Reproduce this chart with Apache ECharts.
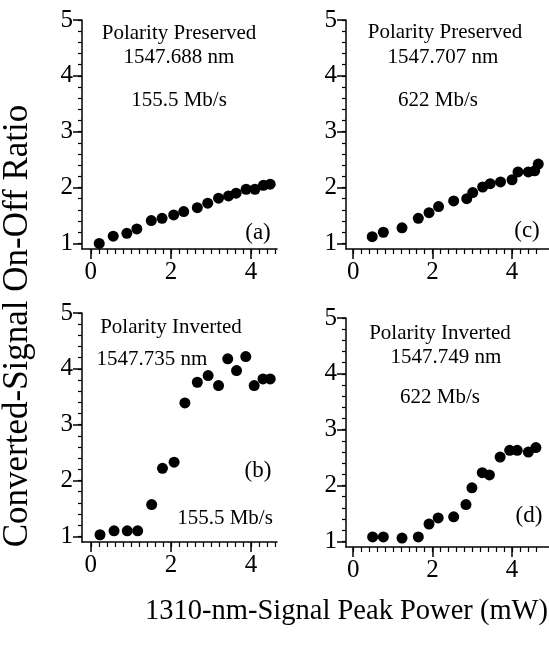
<!DOCTYPE html>
<html>
<head>
<meta charset="utf-8">
<script src="https://cdn.jsdelivr.net/npm/echarts@6/dist/echarts.min.js"></script>
<style>
  html, body { margin: 0; padding: 0; background: #fff; }
  #chart { width: 549px; height: 652px; }
</style>
</head>
<body>
<div id="chart"></div>
<script>
// panel data (x = 1310-nm peak power in mW, y = on-off ratio)
var aX = [0.21, 0.56, 0.90, 1.15, 1.51, 1.78, 2.07, 2.32, 2.66, 2.92, 3.19, 3.44, 3.63, 3.88, 4.10, 4.31, 4.48];
var aY = [1.00, 1.13, 1.18, 1.26, 1.41, 1.45, 1.51, 1.57, 1.64, 1.72, 1.81, 1.85, 1.90, 1.97, 1.97, 2.04, 2.06];

var bX = [0.23, 0.58, 0.91, 1.17, 1.52, 1.79, 2.08, 2.35, 2.66, 2.93, 3.19, 3.42, 3.64, 3.87, 4.08, 4.30, 4.48];
var bY = [1.03, 1.10, 1.10, 1.10, 1.57, 2.22, 2.33, 3.39, 3.76, 3.88, 3.70, 4.18, 3.97, 4.22, 3.70, 3.82, 3.82];

var cX = [0.48, 0.76, 1.23, 1.64, 1.91, 2.15, 2.53, 2.86, 3.01, 3.26, 3.45, 3.71, 4.00, 4.15, 4.41, 4.57, 4.66];
var cY = [1.12, 1.20, 1.28, 1.45, 1.55, 1.66, 1.76, 1.80, 1.91, 2.01, 2.07, 2.10, 2.14, 2.28, 2.28, 2.30, 2.42];

var dX = [0.49, 0.76, 1.23, 1.64, 1.91, 2.14, 2.53, 2.84, 2.99, 3.25, 3.43, 3.70, 3.94, 4.13, 4.41, 4.60];
var dY = [1.08, 1.08, 1.06, 1.08, 1.31, 1.42, 1.44, 1.66, 1.96, 2.23, 2.19, 2.51, 2.63, 2.63, 2.60, 2.68];

// tick labels
var xMajor = [0, 2, 4];
var yMajor = [1, 2, 3, 4, 5];

var serif = '"Liberation Serif", "DejaVu Serif", serif';

function minorList(from, to) {
    var out = [];
    for (var v = from; v <= to + 1e-9; v += 0.2) out.push(Math.round(v * 10) / 10);
    return out;
}
var xMinor = minorList(0, 4.6);
var yMinor = minorList(1, 5);

function pair(xs, ys) {
    return xs.map(function (x, i) { return [x, ys[i]]; });
}

var panels = [
    { data: pair(aX, aY), grid: { left: 82, top: 20, width: 195, height: 229 }, xr: [-0.22, 4.65] },
    { data: pair(bX, bY), grid: { left: 82, top: 313, width: 195, height: 229 }, xr: [-0.22, 4.65] },
    { data: pair(cX, cY), grid: { left: 346, top: 20, width: 203, height: 229 }, xr: [-0.18, 4.93] },
    { data: pair(dX, dY), grid: { left: 346, top: 318, width: 203, height: 229 }, xr: [-0.18, 4.93] }
];

var grids = [], xAxes = [], yAxes = [], series = [];
panels.forEach(function (p, i) {
    grids.push(p.grid);
    // main axes: line, short ticks, labels
    xAxes.push({
        type: 'value', gridIndex: i, position: 'bottom', min: p.xr[0], max: p.xr[1],
        axisLine: { onZero: false, lineStyle: { color: '#000', width: 1.5 } },
        axisTick: { customValues: xMinor, length: 5, lineStyle: { color: '#000', width: 1.2 } },
        axisLabel: { customValues: xMajor, color: '#000', fontFamily: serif, fontSize: 25, margin: 11 },
        splitLine: { show: false }
    });
    // long ticks at major values
    xAxes.push({
        type: 'value', gridIndex: i, position: 'bottom', min: p.xr[0], max: p.xr[1],
        axisLine: { show: false, onZero: false },
        axisTick: { customValues: xMajor, length: 10, lineStyle: { color: '#000', width: 1.5 } },
        axisLabel: { show: false },
        splitLine: { show: false }
    });
    yAxes.push({
        type: 'value', gridIndex: i, position: 'left', min: 0.9, max: 5,
        axisLine: { onZero: false, lineStyle: { color: '#000', width: 1.5 } },
        axisTick: { customValues: yMinor, length: 4, lineStyle: { color: '#000', width: 1.2 } },
        axisLabel: { customValues: yMajor, color: '#000', fontFamily: serif, fontSize: 25, margin: 9 },
        splitLine: { show: false }
    });
    yAxes.push({
        type: 'value', gridIndex: i, position: 'left', min: 0.9, max: 5,
        axisLine: { show: false, onZero: false },
        axisTick: { customValues: yMajor, length: 9, lineStyle: { color: '#000', width: 1.5 } },
        axisLabel: { show: false },
        splitLine: { show: false }
    });
    series.push({
        type: 'scatter', xAxisIndex: 2 * i, yAxisIndex: 2 * i,
        data: p.data, symbolSize: 11,
        itemStyle: { color: '#000', opacity: 1 },
        silent: true
    });
});

function label(text, x, y, size, align) {
    return {
        type: 'text', x: x, y: y,
        style: {
            text: text, fill: '#000', font: size + 'px ' + serif,
            textAlign: align || 'center', textVerticalAlign: 'middle'
        }
    };
}

var texts = [
    label('Polarity Preserved', 179, 33, 21),
    label('1547.688 nm', 179, 57, 21),
    label('155.5 Mb/s', 179, 100, 21),
    label('(a)', 258, 233, 23),

    label('Polarity Preserved', 445, 32, 21),
    label('1547.707 nm', 443, 57, 21),
    label('622 Mb/s', 438, 100, 21),
    label('(c)', 527, 231, 23),

    label('Polarity Inverted', 171, 327, 21),
    label('1547.735 nm', 152, 359, 21),
    label('(b)', 258, 471, 23),
    label('155.5 Mb/s', 225, 518, 21),

    label('Polarity Inverted', 440, 333, 21),
    label('1547.749 nm', 446, 357, 21),
    label('622 Mb/s', 440, 397, 21),
    label('(d)', 529, 516, 23),

    label('1310-nm-Signal Peak Power (mW)', 548, 612, 28.5, 'right'),
    {
        type: 'text', x: 18, y: 326, rotation: Math.PI / 2,
        style: {
            text: 'Converted-Signal On-Off Ratio', fill: '#000', font: '35px ' + serif,
            textAlign: 'center', textVerticalAlign: 'middle'
        }
    }
];

var myChart = echarts.init(document.getElementById('chart'), null, { renderer: 'canvas' });
myChart.setOption({
    animation: false,
    backgroundColor: '#fff',
    grid: grids,
    xAxis: xAxes,
    yAxis: yAxes,
    series: series,
    graphic: texts
});
</script>
</body>
</html>
